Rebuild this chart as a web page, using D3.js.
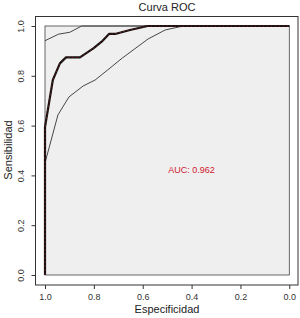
<!DOCTYPE html>
<html>
<head>
<meta charset="utf-8">
<script src="https://cdn.jsdelivr.net/npm/d3@7"></script>
<style>
  body { margin: 0; background: #fff; }
  text { font-family: "Liberation Sans", Arial, sans-serif; }
</style>
</head>
<body>
<svg width="300" height="318"></svg>
<script>
// ROC curve: [especificidad, sensibilidad]
const rocCurve = [
  [1.0, 0.0], [1.0, 0.594], [0.968, 0.783], [0.939, 0.85], [0.914, 0.874],
  [0.857, 0.874], [0.802, 0.91], [0.768, 0.937], [0.738, 0.968], [0.713, 0.968],
  [0.652, 0.984], [0.58, 1.0], [0.0, 1.0]
];
// confidence band
const ciUpper = [
  [1.0, 0.941], [0.945, 0.967], [0.898, 0.975], [0.85, 1.0], [0.0, 1.0]
];
const ciLower = [
  [1.0, 0.45], [0.947, 0.643], [0.902, 0.715], [0.844, 0.759], [0.795, 0.783],
  [0.734, 0.831], [0.684, 0.871], [0.611, 0.924], [0.578, 0.948], [0.508, 0.984],
  [0.434, 1.0], [0.0, 1.0]
];
const ticks = [0.0, 0.2, 0.4, 0.6, 0.8, 1.0];
const aucLabel = "AUC: 0.962";

const svg = d3.select("svg");
const x = d3.scaleLinear().domain([1, 0]).range([45, 289.3]);
const y = d3.scaleLinear().domain([0, 1]).range([275, 26]);

// outer box
svg.append("rect")
  .attr("x", 35.5).attr("y", 16.5).attr("width", 262.5).attr("height", 268.5)
  .attr("fill", "none").attr("stroke", "#333").attr("stroke-width", 1);

// gray area
svg.append("rect")
  .attr("x", x(1)).attr("y", y(1))
  .attr("width", x(0) - x(1)).attr("height", y(0) - y(1))
  .attr("fill", "#efefef").attr("stroke", "#444").attr("stroke-width", 0.8);

const line = d3.line().x(d => x(d[0])).y(d => y(d[1]));

[ciUpper, ciLower].forEach(ci => {
  svg.append("path").datum(ci).attr("d", line)
    .attr("fill", "none").attr("stroke", "#333").attr("stroke-width", 0.9);
});

svg.append("path").datum(rocCurve).attr("d", line)
  .attr("fill", "none").attr("stroke", "#111").attr("stroke-width", 2.2)
  .attr("stroke-linejoin", "round");
svg.append("path").datum(rocCurve).attr("d", line)
  .attr("fill", "none").attr("stroke", "#8e1f1f").attr("stroke-width", 0.7)
  .attr("stroke-dasharray", "2,2");

// axes
const xAxis = svg.append("g").attr("transform", "translate(0,285)")
  .call(d3.axisBottom(x).tickValues(ticks).tickFormat(d3.format(".1f")).tickSize(4).tickSizeOuter(0));
xAxis.select(".domain").remove();
xAxis.selectAll("text").attr("font-size", 9).attr("fill", "#333").attr("dy", "0.9em");
xAxis.selectAll("line").attr("stroke", "#333");

const yAxis = svg.append("g").attr("transform", "translate(35.5,0)")
  .call(d3.axisLeft(y).tickValues(ticks).tickFormat(d3.format(".1f")).tickSize(4).tickSizeOuter(0));
yAxis.select(".domain").remove();
yAxis.selectAll("line").attr("stroke", "#333");
yAxis.selectAll("text")
  .attr("font-size", 9).attr("fill", "#333")
  .attr("x", null).attr("dy", null)
  .attr("text-anchor", "middle")
  .attr("transform", "translate(-12,0) rotate(-90)");

// titles
svg.append("text").attr("x", 167).attr("y", 11).attr("text-anchor", "middle")
  .attr("font-size", 11).attr("fill", "#222").text("Curva ROC");
svg.append("text").attr("x", 167).attr("y", 313).attr("text-anchor", "middle")
  .attr("font-size", 11).attr("fill", "#222").text("Especificidad");
svg.append("text").attr("transform", "translate(12,150) rotate(-90)")
  .attr("text-anchor", "middle").attr("font-size", 11).attr("fill", "#222").text("Sensibilidad");

svg.append("text").attr("x", x(0.4)).attr("y", y(0.42) + 3).attr("text-anchor", "middle")
  .attr("font-size", 9).attr("fill", "#d0202f").text(aucLabel);
</script>
</body>
</html>
